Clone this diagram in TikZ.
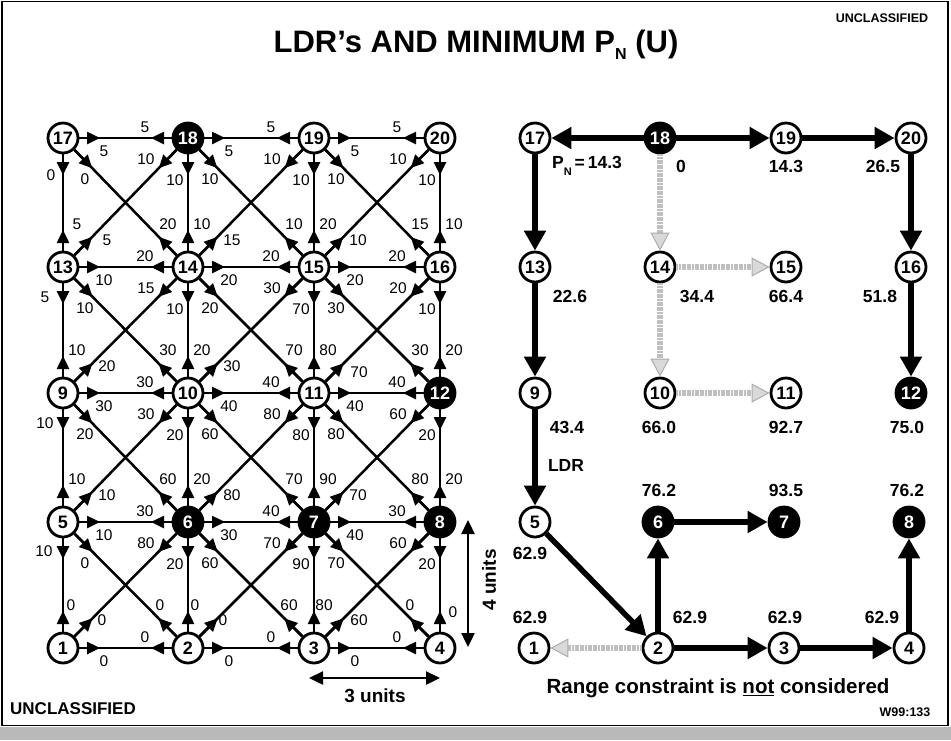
\documentclass[tikz,border=0pt]{standalone}
\usepackage{fontspec}
\setmainfont{Liberation Sans}
\usetikzlibrary{arrows.meta,calc}
\newcommand\dl[6]{%
  \draw[arr] (L#1) -- ($(L#1.center)!#6!(L#2.center)$);
  \node[lbl] (t#1x#2) at ([shift={(#4,#5)}]L#1.center) {#3};}
\newcommand\kE[3]{\dl{#1}{#2}{#3}{41}{13}{37pt}}
\newcommand\kW[3]{\dl{#1}{#2}{#3}{-43}{-11}{37pt}}
\newcommand\kN[3]{\dl{#1}{#2}{#3}{14}{-43}{37pt}}
\newcommand\kS[3]{\dl{#1}{#2}{#3}{-13}{42}{37pt}}
\newcommand\kNE[3]{\dl{#1}{#2}{#3}{44}{-27}{42pt}}
\newcommand\kNW[3]{\dl{#1}{#2}{#3}{-20}{-43}{42pt}}
\newcommand\kSE[3]{\dl{#1}{#2}{#3}{22}{41}{42pt}}
\newcommand\kSW[3]{\dl{#1}{#2}{#3}{-42}{21}{42pt}}
\begin{document}
\begin{tikzpicture}[x=1pt,y=-1pt,
  gn/.style={circle,draw,line width=2.8pt,minimum size=30pt,inner sep=0pt,fill=white,font=\fontsize{18}{18}\selectfont\bfseries},
  bn/.style={gn,fill=black,text=white},
  lbl/.style={font=\fontsize{15.5}{16}\selectfont,inner sep=0pt},
  edgeline/.style={line width=2.5pt},
  arr/.style={line width=2.5pt,-{Triangle[length=13pt,width=12pt]}},
  bigarr/.style={line width=5.5pt,-{Triangle[length=20pt,width=21pt]}},
  grayarr/.style={line width=5.5pt,draw=gray!50,dash pattern=on 2pt off 0.6pt,-{Triangle[length=18pt,width=19pt,fill=gray!30,color=gray!65,line width=1pt]}},
  rl/.style={font=\fontsize{17.5}{18}\selectfont\bfseries,inner sep=0pt},
  dimarrow/.style={line width=2.4pt,{Triangle[length=14pt,width=13pt]}-{Triangle[length=14pt,width=13pt]}},
  boldtxt/.style={font=\bfseries,inner sep=0pt},
  ]
\useasboundingbox (0,0) rectangle (951,740);
\fill[gray!55] (0,727) rectangle (951,740);
\draw[line width=1.5pt] (2,1.5) rectangle (948,725.5);

% title and marks
\node[anchor=base,inner sep=0pt,font=\fontsize{31}{31}\selectfont\bfseries] (title) at (476,52)
  {LDR’s AND MINIMUM P\raisebox{-7pt}{\fontsize{16}{16}\selectfont N} (U)};
\node[boldtxt,font=\fontsize{12.5}{13}\selectfont\bfseries] (uctop) at (882,18) {UNCLASSIFIED};
\node[boldtxt,font=\fontsize{17}{17}\selectfont\bfseries] (ucbot) at (73,709) {UNCLASSIFIED};
\node[boldtxt,font=\fontsize{12.5}{13}\selectfont\bfseries] (wnum) at (905,712) {W99:133};
\node[boldtxt,font=\fontsize{20.5}{21}\selectfont\bfseries] (range) at (718,688) {Range constraint is \underline{not} considered};

% ---------------- left graph nodes
\node[gn] (L17) at (63,138) {17};
\node[bn] (L18) at (188,138) {18};
\node[gn] (L19) at (314,138) {19};
\node[gn] (L20) at (440,138) {20};
\node[gn] (L13) at (63,267) {13};
\node[gn] (L14) at (188,267) {14};
\node[gn] (L15) at (314,267) {15};
\node[gn] (L16) at (440,267) {16};
\node[gn] (L9) at (63,393) {9};
\node[gn] (L10) at (188,393) {10};
\node[gn] (L11) at (314,393) {11};
\node[bn] (L12) at (440,393) {12};
\node[gn] (L5) at (63,522) {5};
\node[bn] (L6) at (188,522) {6};
\node[bn] (L7) at (314,522) {7};
\node[bn] (L8) at (440,522) {8};
\node[gn] (L1) at (63,648) {1};
\node[gn] (L2) at (188,648) {2};
\node[gn] (L3) at (314,648) {3};
\node[gn] (L4) at (440,648) {4};

% lines
\foreach \a in {1,2,3,5,6,7,9,10,11,13,14,15} {
  \pgfmathtruncatemacro\b{\a+1}
  \pgfmathtruncatemacro\c{\a+4}
  \pgfmathtruncatemacro\d{\a+5}
  \draw[edgeline] (L\a) -- (L\b);
  \draw[edgeline] (L\a) -- (L\d);
  \draw[edgeline] (L\b) -- (L\c);
}
\foreach \a in {17,18,19} {
  \pgfmathtruncatemacro\b{\a+1}
  \draw[edgeline] (L\a) -- (L\b);
}
\foreach \a in {1,...,16} {
  \pgfmathtruncatemacro\c{\a+4}
  \draw[edgeline] (L\a) -- (L\c);
}

% directed arrows + labels
\kE{17}{18}{5} \dl{17}{13}{0}{-12}{37}{37pt} \kSE{17}{14}{0}
\kW{18}{17}{5} \kE{18}{19}{5} \kSW{18}{13}{10} \kS{18}{14}{10} \kSE{18}{15}{10}
\kW{19}{18}{5} \kE{19}{20}{5} \kSW{19}{14}{10} \kS{19}{15}{10} \kSE{19}{16}{10}
\kW{20}{19}{5} \kSW{20}{15}{10} \kS{20}{16}{10}

\kN{13}{17}{5} \kNE{13}{18}{5} \kE{13}{14}{10} \dl{13}{9}{5}{-18}{30}{37pt} \kSE{13}{10}{10}
\kNW{14}{17}{20} \kN{14}{18}{10} \kNE{14}{19}{15} \kW{14}{13}{20} \kE{14}{15}{20} \kSW{14}{9}{15} \kS{14}{10}{10} \kSE{14}{11}{20}
\kNW{15}{18}{10} \kN{15}{19}{20} \kNE{15}{20}{10} \kW{15}{14}{20} \kE{15}{16}{20} \kSW{15}{10}{30} \kS{15}{11}{70} \kSE{15}{12}{30}
\kNW{16}{19}{15} \kN{16}{20}{10} \kW{16}{15}{20} \kSW{16}{11}{20} \kS{16}{12}{10}

\kN{9}{13}{10} \kNE{9}{14}{20} \kE{9}{10}{30} \dl{9}{5}{10}{-18}{30}{37pt} \kSE{9}{6}{20}
\kNW{10}{13}{30} \kN{10}{14}{20} \kNE{10}{15}{30} \kW{10}{9}{30} \kE{10}{11}{40} \kSW{10}{5}{30} \kS{10}{6}{20} \kSE{10}{7}{60}
\kNW{11}{14}{70} \kN{11}{15}{80} \dl{11}{16}{70}{45}{-21}{42pt} \kW{11}{10}{40} \kE{11}{12}{40} \kSW{11}{6}{80} \kS{11}{7}{80} \kSE{11}{8}{80}
\kNW{12}{15}{30} \kN{12}{16}{20} \kW{12}{11}{40} \kSW{12}{7}{60} \kS{12}{8}{20}

\kN{5}{9}{10} \kNE{5}{10}{10} \kE{5}{6}{10} \dl{5}{1}{10}{-19}{29}{37pt} \kSE{5}{2}{0}
\kNW{6}{9}{60} \kN{6}{10}{20} \kNE{6}{11}{80} \kW{6}{5}{30} \kE{6}{7}{30} \kSW{6}{1}{80} \kS{6}{2}{20} \kSE{6}{3}{60}
\kNW{7}{10}{70} \kN{7}{11}{90} \kNE{7}{12}{70} \kW{7}{6}{40} \kE{7}{8}{40} \kSW{7}{2}{70} \kS{7}{3}{90} \kSE{7}{4}{70}
\kNW{8}{11}{80} \kN{8}{12}{20} \kW{8}{7}{30} \kSW{8}{3}{60} \kS{8}{4}{20}

\dl{1}{5}{0}{8}{-43}{37pt} \dl{1}{6}{0}{39}{-28}{42pt} \kE{1}{2}{0}
\dl{2}{5}{0}{-28}{-43}{42pt} \dl{2}{6}{0}{7}{-43}{37pt} \dl{2}{7}{0}{35}{-28}{42pt} \kW{2}{1}{0} \kE{2}{3}{0}
\dl{3}{6}{60}{-25}{-43}{42pt} \dl{3}{7}{80}{10}{-43}{37pt} \dl{3}{8}{60}{45}{-28}{42pt} \kW{3}{2}{0} \kE{3}{4}{0}
\dl{4}{7}{0}{-30}{-43}{42pt} \dl{4}{8}{0}{13}{-36}{37pt} \kW{4}{3}{0}

% dimension arrows
\coordinate (u4a) at (468,520);
\coordinate (u4b) at (468,647);
\draw[dimarrow] (u4a) -- (u4b);
\node[boldtxt,font=\fontsize{19}{19}\selectfont\bfseries,rotate=90] (u4l) at (489,580) {4 units};
\coordinate (u3a) at (309,678);
\coordinate (u3b) at (440,678);
\draw[dimarrow] (u3a) -- (u3b);
\node[boldtxt,font=\fontsize{19}{19}\selectfont\bfseries] (u3l) at (375,696) {3 units};

% ---------------- right graph
\node[gn] (R17) at (535,138) {17};
\node[bn] (R18) at (660,138) {18};
\node[gn] (R19) at (786,138) {19};
\node[gn] (R20) at (911,138) {20};
\node[gn] (R13) at (535,267) {13};
\node[gn] (R14) at (660,267) {14};
\node[gn] (R15) at (786,267) {15};
\node[gn] (R16) at (911,267) {16};
\node[gn] (R9) at (535,393) {9};
\node[gn] (R10) at (660,393) {10};
\node[gn] (R11) at (786,393) {11};
\node[bn] (R12) at (911,393) {12};
\node[gn] (R5) at (535,522) {5};
\node[bn] (R6) at (658,522) {6};
\node[bn] (R7) at (784,522) {7};
\node[bn] (R8) at (909,522) {8};
\node[gn] (R1) at (534,648) {1};
\node[gn] (R2) at (658,648) {2};
\node[gn] (R3) at (784,648) {3};
\node[gn] (R4) at (909,648) {4};

\draw[grayarr] (R18) -- (R14);
\draw[grayarr] (R14) -- (R15);
\draw[grayarr] (R14) -- (R10);
\draw[grayarr] (R10) -- (R11);
\draw[grayarr] (R2) -- (R1);

\draw[bigarr] (R18) -- (R17);
\draw[bigarr] (R18) -- (R19);
\draw[bigarr] (R19) -- (R20);
\draw[bigarr] (R17) -- (R13);
\draw[bigarr] (R13) -- (R9);
\draw[bigarr] (R9) -- (R5);
\draw[bigarr] (R5) -- (R2);
\draw[bigarr] (R2) -- (R6);
\draw[bigarr] (R6) -- (R7);
\draw[bigarr] (R2) -- (R3);
\draw[bigarr] (R3) -- (R4);
\draw[bigarr] (R4) -- (R8);
\draw[bigarr] (R20) -- (R16);
\draw[bigarr] (R16) -- (R12);

\node[rl] (pn) at (587,166) {P\raisebox{-7pt}{\fontsize{11}{11}\selectfont N}\,=\,14.3};
\node[rl] (r18v) at (681,166) {0};
\node[rl] (r19v) at (786,166) {14.3};
\node[rl] (r20v) at (883,166) {26.5};
\node[rl] (r13v) at (570,296) {22.6};
\node[rl] (r14v) at (697,296) {34.4};
\node[rl] (r15v) at (786,296) {66.4};
\node[rl] (r16v) at (880,296) {51.8};
\node[rl] (r9v) at (567,427) {43.4};
\node[rl] (r10v) at (659,427) {66.0};
\node[rl] (r11v) at (786,427) {92.7};
\node[rl] (r12v) at (907,427) {75.0};
\node[rl] (ldr) at (566,465) {LDR};
\node[rl] (r6v) at (659,490) {76.2};
\node[rl] (r7v) at (786,490) {93.5};
\node[rl] (r8v) at (907,490) {76.2};
\node[rl] (r5v) at (530,553) {62.9};
\node[rl] (r1v) at (530,617) {62.9};
\node[rl] (r2v) at (690,617) {62.9};
\node[rl] (r3v) at (785,617) {62.9};
\node[rl] (r4v) at (882,617) {62.9};
\end{tikzpicture}
\end{document}
